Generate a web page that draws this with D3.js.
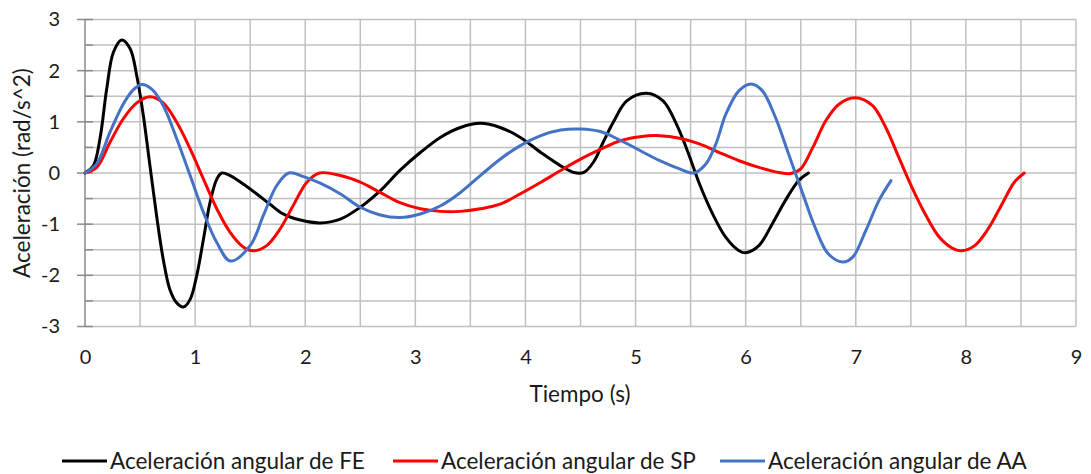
<!DOCTYPE html>
<html>
<head>
<meta charset="utf-8">
<script src="https://cdn.jsdelivr.net/npm/d3@7"></script>
<style>
  html, body { margin: 0; padding: 0; background: #fff; }
  svg { display: block; font-family: Lato, "Open Sans", sans-serif; }
</style>
</head>
<body>
<svg id="chart" width="1091" height="474"></svg>
<script>
// Angular acceleration traces (time in s, acceleration in rad/s^2)
const fePoints = [
  [0, 0], [0.076, 0.14], [0.136, 0.67], [0.197, 1.64], [0.258, 2.36], [0.333, 2.6],
  [0.41, 2.43], [0.47, 1.9], [0.53, 1.12], [0.59, 0.14], [0.65, -0.83], [0.71, -1.68],
  [0.77, -2.27], [0.83, -2.53], [0.894, -2.62], [0.955, -2.47], [1.015, -2.0],
  [1.076, -1.29], [1.136, -0.57], [1.197, -0.12], [1.242, 0], [1.318, -0.05],
  [1.44, -0.22], [1.56, -0.41], [1.68, -0.61], [1.8, -0.8], [1.955, -0.92],
  [2.136, -0.975], [2.32, -0.9], [2.5, -0.67], [2.68, -0.35], [2.86, 0.05],
  [3.045, 0.4], [3.23, 0.7], [3.41, 0.89], [3.59, 0.97], [3.77, 0.89], [3.95, 0.7],
  [4.14, 0.4], [4.32, 0.14], [4.44, 0.01], [4.53, 0.01], [4.62, 0.22], [4.71, 0.62],
  [4.80, 1.0], [4.92, 1.41], [5.1, 1.56], [5.25, 1.41], [5.37, 0.96], [5.47, 0.44],
  [5.58, -0.21], [5.70, -0.80], [5.82, -1.26], [5.94, -1.52], [6.0, -1.56],
  [6.12, -1.42], [6.24, -1.0], [6.36, -0.54], [6.48, -0.15], [6.57, 0]
];

const spPoints = [
  [0, 0], [0.106, 0.11], [0.227, 0.6], [0.348, 1.06], [0.47, 1.37], [0.59, 1.49],
  [0.71, 1.37], [0.833, 0.99], [0.955, 0.47], [1.076, -0.12], [1.197, -0.70],
  [1.318, -1.16], [1.44, -1.45], [1.53, -1.52], [1.65, -1.42], [1.77, -1.10],
  [1.89, -0.64], [2.015, -0.18], [2.13, 0], [2.32, -0.05], [2.5, -0.18],
  [2.68, -0.38], [2.86, -0.58], [3.045, -0.70], [3.23, -0.75], [3.41, -0.75],
  [3.59, -0.70], [3.77, -0.61], [3.95, -0.41], [4.14, -0.18], [4.32, 0.05],
  [4.5, 0.27], [4.68, 0.46], [4.86, 0.63], [5.04, 0.71], [5.22, 0.73], [5.4, 0.68],
  [5.58, 0.57], [5.76, 0.40], [5.94, 0.24], [6.12, 0.11], [6.30, 0.01], [6.41, -0.01],
  [6.5, 0.08], [6.61, 0.50], [6.73, 1.03], [6.85, 1.35], [7.0, 1.47], [7.15, 1.32],
  [7.27, 0.9], [7.39, 0.31], [7.51, -0.28], [7.63, -0.80], [7.75, -1.23],
  [7.87, -1.46], [7.96, -1.52], [8.08, -1.42], [8.2, -1.10], [8.32, -0.64],
  [8.44, -0.18], [8.53, 0]
];

const aaPoints = [
  [0, 0], [0.106, 0.18], [0.227, 0.8], [0.348, 1.35], [0.44, 1.63], [0.515, 1.73],
  [0.606, 1.64], [0.71, 1.32], [0.833, 0.67], [0.955, -0.05], [1.076, -0.77],
  [1.197, -1.36], [1.32, -1.72], [1.5, -1.42], [1.62, -0.83],
  [1.74, -0.25], [1.85, 0], [1.985, -0.07], [2.136, -0.2], [2.32, -0.41],
  [2.5, -0.67], [2.68, -0.82], [2.86, -0.87], [3.045, -0.80], [3.23, -0.64],
  [3.41, -0.38], [3.59, -0.05], [3.77, 0.27], [3.95, 0.53], [4.14, 0.73],
  [4.32, 0.84], [4.5, 0.86], [4.68, 0.81], [4.86, 0.64], [5.04, 0.44], [5.22, 0.24],
  [5.4, 0.08], [5.53, 0], [5.64, 0.18], [5.73, 0.57], [5.82, 1.15], [5.94, 1.61],
  [6.05, 1.74], [6.15, 1.61], [6.27, 1.09], [6.39, 0.37], [6.51, -0.35],
  [6.63, -1.06], [6.75, -1.58], [6.88, -1.74], [6.97, -1.65], [7.09, -1.13],
  [7.21, -0.54], [7.32, -0.15]
];

const seriesNames = [
  "Aceleración angular de FE",
  "Aceleración angular de SP",
  "Aceleración angular de AA"
];
const seriesColors = ["#000000", "#ff0000", "#4472c4"];
const xTickValues = [0, 1, 2, 3, 4, 5, 6, 7, 8, 9];
const yTickValues = [-3, -2, -1, 0, 1, 2, 3];
const xAxisTitle = "Tiempo (s)";
const yAxisTitle = "Aceleración (rad/s^2)";

const series = [fePoints, spPoints, aaPoints].map((pts, i) => ({
  name: seriesNames[i], color: seriesColors[i], values: pts
}));

const svg = d3.select("#chart");
const plot = { left: 85, right: 1076, top: 19.5, bottom: 326.5 };

const x = d3.scaleLinear().domain([0, 9]).range([plot.left, plot.right]);
const y = d3.scaleLinear().domain([-3, 3]).range([plot.bottom, plot.top]);

const gridColor = "#c0c0c0";
const halfSteps = d3.range(-6, 7).map(d => d / 2);
const xHalfSteps = d3.range(1, 19).map(d => d / 2);

// Grid
const grid = svg.append("g");
grid.selectAll("line.h").data(halfSteps).join("line")
  .attr("x1", plot.left).attr("x2", plot.right)
  .attr("y1", d => y(d)).attr("y2", d => y(d))
  .attr("stroke", gridColor).attr("stroke-width", 1.5);
grid.selectAll("line.v").data(xHalfSteps).join("line")
  .attr("x1", d => x(d)).attr("x2", d => x(d))
  .attr("y1", plot.top).attr("y2", plot.bottom)
  .attr("stroke", gridColor).attr("stroke-width", 1.5);

// Vertical axis with major ticks crossing and minor ticks inside
const axisColor = "#8a8a8a";
const yAxis = svg.append("g");
yAxis.append("line")
  .attr("x1", plot.left).attr("x2", plot.left)
  .attr("y1", plot.top).attr("y2", plot.bottom)
  .attr("stroke", axisColor).attr("stroke-width", 1.5);
yAxis.selectAll("line.major").data(yTickValues).join("line")
  .attr("x1", plot.left - 8).attr("x2", plot.left + 8)
  .attr("y1", d => y(d)).attr("y2", d => y(d))
  .attr("stroke", axisColor).attr("stroke-width", 1.5);
yAxis.selectAll("line.minor").data(halfSteps.filter(d => !Number.isInteger(d))).join("line")
  .attr("x1", plot.left).attr("x2", plot.left + 8)
  .attr("y1", d => y(d)).attr("y2", d => y(d))
  .attr("stroke", axisColor).attr("stroke-width", 1.5);

const tickFont = 20;
const titleFont = 22.5;
const textColor = "#1a1a1a";
const numFormat = d => String(d);  // plain hyphen-minus for negatives

svg.append("g")
  .attr("transform", `translate(${plot.left},0)`)
  .call(d3.axisLeft(y).tickValues(yTickValues).tickSize(0).tickPadding(25).tickFormat(numFormat))
  .call(g => g.select(".domain").remove())
  .selectAll("text")
  .attr("font-size", tickFont).attr("font-family", "Lato").attr("fill", textColor);

svg.append("g")
  .attr("transform", `translate(0,${plot.bottom})`)
  .call(d3.axisBottom(x).tickValues(xTickValues).tickSize(0).tickPadding(23).tickFormat(numFormat))
  .call(g => g.select(".domain").remove())
  .selectAll("text")
  .attr("font-size", tickFont).attr("font-family", "Lato").attr("fill", textColor);

// Axis titles
svg.append("text")
  .attr("x", 580).attr("y", 402)
  .attr("text-anchor", "middle")
  .attr("font-size", titleFont).attr("fill", textColor)
  .text(xAxisTitle);

svg.append("text")
  .attr("transform", `translate(30,173) rotate(-90)`)
  .attr("text-anchor", "middle")
  .attr("font-size", titleFont).attr("fill", textColor)
  .text(yAxisTitle);

// Curves
const line = d3.line()
  .x(d => x(d[0]))
  .y(d => y(d[1]))
  .curve(d3.curveCatmullRom.alpha(0.5));

svg.append("g").selectAll("path").data(series).join("path")
  .attr("d", d => line(d.values))
  .attr("fill", "none")
  .attr("stroke", d => d.color)
  .attr("stroke-width", 3)
  .attr("stroke-linejoin", "round")
  .attr("stroke-linecap", "round");

// Legend
const legendX = [62, 393, 720];
const legend = svg.append("g").selectAll("g").data(series).join("g")
  .attr("transform", (d, i) => `translate(${legendX[i]},461)`);
legend.append("line")
  .attr("x1", 0).attr("x2", 45).attr("y1", 0).attr("y2", 0)
  .attr("stroke", d => d.color).attr("stroke-width", 3);
legend.append("text")
  .attr("x", 48).attr("y", 7.5)
  .attr("font-size", titleFont).attr("fill", textColor)
  .text(d => d.name);
</script>
</body>
</html>
